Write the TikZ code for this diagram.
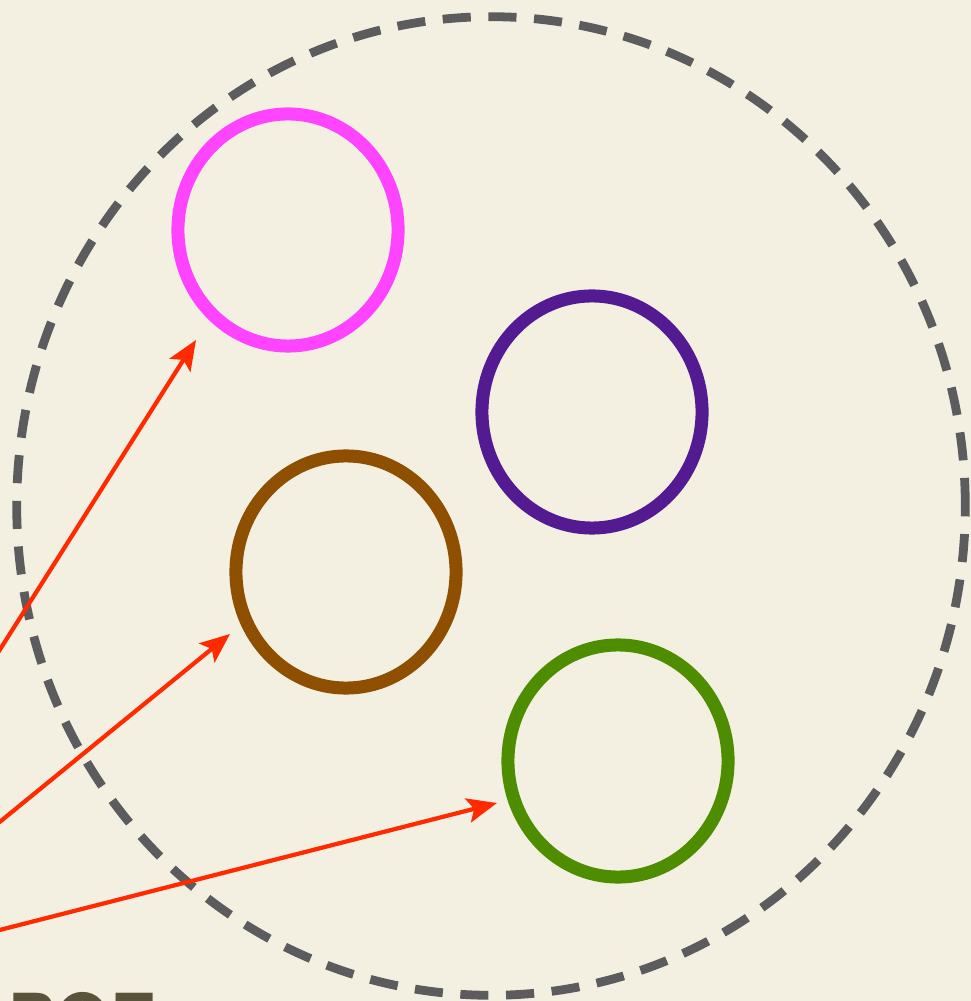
\documentclass[tikz,border=0pt]{standalone}
\usepackage{fontspec}
\setmainfont{TeX Gyre Heros}
\usetikzlibrary{arrows.meta,shapes.geometric}
\definecolor{bgcream}{RGB}{244,240,225}
\definecolor{dashgray}{RGB}{92,92,94}
\definecolor{cpink}{RGB}{255,68,255}
\definecolor{cpurple}{RGB}{83,26,145}
\definecolor{cbrown}{RGB}{142,79,0}
\definecolor{cgreen}{RGB}{78,140,0}
\definecolor{cred}{RGB}{255,42,0}
\definecolor{ctext}{RGB}{88,83,58}
\tikzset{
  ring/.style={draw=#1, line width=3.7pt, ellipse, minimum width=2.2cm, minimum height=2.32cm, inner sep=0pt},
  pointer/.style={draw=cred, line width=1.2pt, -{Stealth[length=8.5pt,width=7pt,inset=1.8pt]}},
  outer/.style={draw=dashgray, line width=2.5pt, dash pattern=on 8pt off 5pt}
}
\begin{document}
\begin{tikzpicture}[x=0.01cm,y=-0.01cm]
\useasboundingbox (0,0) rectangle (971,1001);
\fill[bgcream] (0,0) rectangle (971,1001);
\clip (0,0) rectangle (971,1001);
\node[outer, ellipse, minimum width=9.48cm, minimum height=9.78cm, inner sep=0pt] (group) at (491,506) {};
\node[ring=cpink] (pink) at (288,230) {};
\node[ring=cpurple] (purple) at (592,412) {};
\node[ring=cbrown] (brown) at (346,572) {};
\node[ring=cgreen] (green) at (618,761) {};
\coordinate (s1) at (-20,681);
\coordinate (s2) at (-20,838);
\coordinate (s3) at (-20,935);
\coordinate (t1) at (196,340);
\coordinate (t2) at (230,634);
\coordinate (t3) at (497,803);
\draw[pointer] (s1) -- (t1);
\draw[pointer] (s2) -- (t2);
\draw[pointer] (s3) -- (t3);
\node[anchor=base west, inner sep=0pt, text=ctext, font=\fontsize{20}{24}\selectfont\bfseries] (label) at (8,1044) {POE};
\end{tikzpicture}
\end{document}
